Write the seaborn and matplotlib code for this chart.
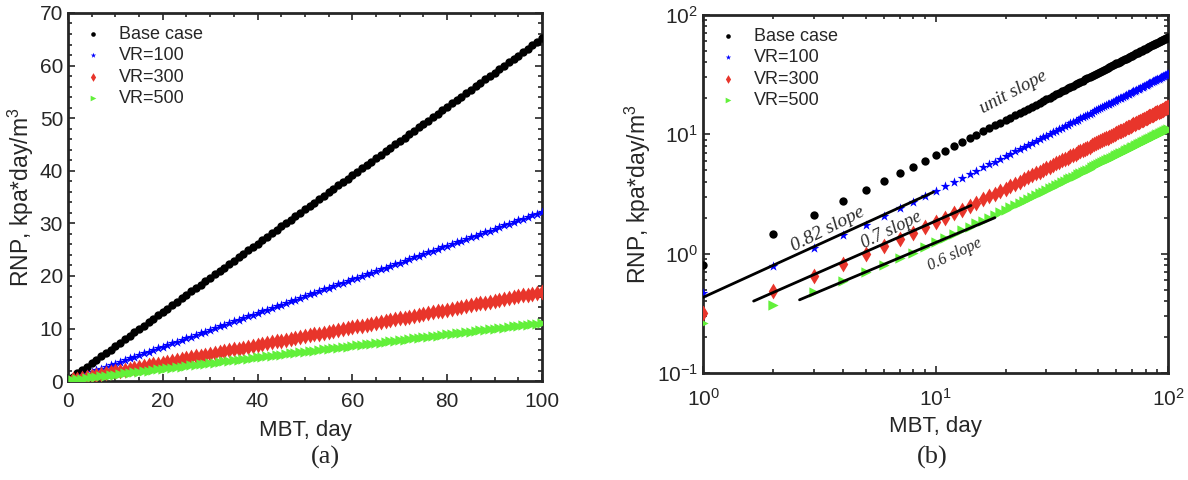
import numpy as np
import pandas as pd
from matplotlib import pyplot as plt
from matplotlib.ticker import MultipleLocator, LogLocator, NullFormatter
import seaborn as sns

sns.set_style("ticks")
plt.rcParams["font.family"] = ["Liberation Sans", "DejaVu Sans"]
plt.rcParams["mathtext.default"] = "regular"

# MBT, day (1..100)
mbt = list(range(1, 101))

base_case = [0.80, 1.45, 2.10, 2.75, 3.40, 4.05, 4.70, 5.35, 6.00, 6.65,
             7.30, 7.95, 8.60, 9.25, 9.90, 10.55, 11.20, 11.85, 12.50, 13.15,
             13.80, 14.45, 15.10, 15.75, 16.40, 17.05, 17.70, 18.35, 19.00, 19.65,
             20.30, 20.95, 21.60, 22.25, 22.90, 23.55, 24.20, 24.85, 25.50, 26.15,
             26.80, 27.45, 28.10, 28.75, 29.40, 30.05, 30.70, 31.35, 32.00, 32.65,
             33.30, 33.95, 34.60, 35.25, 35.90, 36.55, 37.20, 37.85, 38.50, 39.15,
             39.80, 40.45, 41.10, 41.75, 42.40, 43.05, 43.70, 44.35, 45.00, 45.65,
             46.30, 46.95, 47.60, 48.25, 48.90, 49.55, 50.20, 50.85, 51.50, 52.15,
             52.80, 53.45, 54.10, 54.75, 55.40, 56.05, 56.70, 57.35, 58.00, 58.65,
             59.30, 59.95, 60.60, 61.25, 61.90, 62.55, 63.20, 63.85, 64.50, 65.15]

vr100 = [0.47, 0.79, 1.11, 1.43, 1.75, 2.07, 2.39, 2.71, 3.03, 3.35,
         3.67, 3.99, 4.31, 4.63, 4.95, 5.27, 5.59, 5.91, 6.23, 6.55,
         6.87, 7.19, 7.51, 7.83, 8.15, 8.47, 8.79, 9.11, 9.43, 9.75,
         10.07, 10.39, 10.71, 11.03, 11.35, 11.67, 11.99, 12.31, 12.63, 12.95,
         13.27, 13.59, 13.91, 14.23, 14.55, 14.87, 15.19, 15.51, 15.83, 16.15,
         16.47, 16.79, 17.11, 17.43, 17.75, 18.07, 18.39, 18.71, 19.03, 19.35,
         19.67, 19.99, 20.31, 20.63, 20.95, 21.27, 21.59, 21.91, 22.23, 22.55,
         22.87, 23.19, 23.51, 23.83, 24.15, 24.47, 24.79, 25.11, 25.43, 25.75,
         26.07, 26.39, 26.71, 27.03, 27.35, 27.67, 27.99, 28.31, 28.63, 28.95,
         29.27, 29.59, 29.91, 30.23, 30.55, 30.87, 31.19, 31.51, 31.83, 32.15]

vr300 = [0.32, 0.49, 0.65, 0.82, 0.99, 1.16, 1.33, 1.49, 1.66, 1.83,
         2.00, 2.17, 2.33, 2.50, 2.67, 2.84, 3.01, 3.17, 3.34, 3.51,
         3.68, 3.85, 4.01, 4.18, 4.35, 4.52, 4.69, 4.85, 5.02, 5.19,
         5.36, 5.53, 5.69, 5.86, 6.03, 6.20, 6.37, 6.53, 6.70, 6.87,
         7.04, 7.21, 7.37, 7.54, 7.71, 7.88, 8.05, 8.21, 8.38, 8.55,
         8.72, 8.89, 9.05, 9.22, 9.39, 9.56, 9.73, 9.89, 10.06, 10.23,
         10.40, 10.57, 10.73, 10.90, 11.07, 11.24, 11.41, 11.57, 11.74, 11.91,
         12.08, 12.25, 12.41, 12.58, 12.75, 12.92, 13.09, 13.25, 13.42, 13.59,
         13.76, 13.93, 14.09, 14.26, 14.43, 14.60, 14.77, 14.93, 15.10, 15.27,
         15.44, 15.61, 15.77, 15.94, 16.11, 16.28, 16.45, 16.61, 16.78, 16.95]

vr500 = [0.26, 0.37, 0.48, 0.59, 0.70, 0.80, 0.91, 1.02, 1.13, 1.24,
         1.35, 1.46, 1.57, 1.68, 1.79, 1.89, 2.00, 2.11, 2.22, 2.33,
         2.44, 2.55, 2.66, 2.77, 2.88, 2.98, 3.09, 3.20, 3.31, 3.42,
         3.53, 3.64, 3.75, 3.86, 3.97, 4.07, 4.18, 4.29, 4.40, 4.51,
         4.62, 4.73, 4.84, 4.95, 5.06, 5.16, 5.27, 5.38, 5.49, 5.60,
         5.71, 5.82, 5.93, 6.04, 6.15, 6.25, 6.36, 6.47, 6.58, 6.69,
         6.80, 6.91, 7.02, 7.13, 7.24, 7.34, 7.45, 7.56, 7.67, 7.78,
         7.89, 8.00, 8.11, 8.22, 8.33, 8.43, 8.54, 8.65, 8.76, 8.87,
         8.98, 9.09, 9.20, 9.31, 9.42, 9.52, 9.63, 9.74, 9.85, 9.96,
         10.07, 10.18, 10.29, 10.40, 10.51, 10.61, 10.72, 10.83, 10.94, 11.05]

labels = ["Base case", "VR=100", "VR=300", "VR=500"]

# fitted slope lines on log plot: (x0, x1), (y0, y1)
slope_x = [(1.0, 9.8), (1.65, 14.2), (2.6, 18.0)]
slope_y = [(0.43, 3.28), (0.40, 2.53), (0.41, 2.0)]
slope_text = ["unit slope", "0.82 slope", "0.7 slope", "0.6 slope"]
slope_text_x = [21.7, 3.45, 6.45, 12.1]
slope_text_y = [22.4, 1.59, 1.57, 0.98]

df = pd.DataFrame({"MBT": mbt * 4,
                   "RNP": base_case + vr100 + vr300 + vr500,
                   "case": np.repeat(labels, len(mbt))})

colors = {"Base case": "#000000", "VR=100": "#0000ff",
          "VR=300": "#e8352b", "VR=500": "#62f03a"}
markers = {"Base case": "o", "VR=100": "*", "VR=300": "d", "VR=500": ">"}
sizes = {"Base case": 36, "VR=100": 55, "VR=300": 65, "VR=500": 55}

txt_col = "#262626"

fig = plt.figure(figsize=(11.88, 4.8), dpi=100)
ax1 = fig.add_axes([0.0572, 0.206, 0.399, 0.767])
ax2 = fig.add_axes([0.5918, 0.223, 0.3914, 0.746])

for ax in (ax1, ax2):
    for lab in labels:
        sub = df[df["case"] == lab]
        sns.scatterplot(data=sub, x="MBT", y="RNP", marker=markers[lab],
                        color=colors[lab], s=sizes[lab], linewidth=0,
                        label=lab, ax=ax, zorder=3)

# (a) linear
ax1.set_xlim(0, 100)
ax1.set_ylim(0, 70)
ax1.xaxis.set_major_locator(MultipleLocator(20))
ax1.xaxis.set_minor_locator(MultipleLocator(5))
ax1.yaxis.set_major_locator(MultipleLocator(10))
ax1.yaxis.set_minor_locator(MultipleLocator(2))

# (b) log-log
ax2.set_xscale("log")
ax2.set_yscale("log")
ax2.set_xlim(1, 100)
ax2.set_ylim(0.1, 100)
ax2.xaxis.set_minor_locator(LogLocator(base=10, subs=np.arange(2, 10)))
ax2.yaxis.set_minor_locator(LogLocator(base=10, subs=np.arange(2, 10)))
ax2.xaxis.set_minor_formatter(NullFormatter())
ax2.yaxis.set_minor_formatter(NullFormatter())

for xs, ys in zip(slope_x, slope_y):
    ax2.plot(xs, ys, color="black", lw=2, zorder=4)

rot = [28, 27, 26, 25]
fs = [13.5, 14, 13, 11.5]
for t, x, y, r, f in zip(slope_text, slope_text_x, slope_text_y, rot, fs):
    ax2.text(x, y, t, rotation=r, ha="center", va="center", fontsize=f,
             style="italic", color="#2a2a2a",
             family=["Liberation Serif", "DejaVu Serif"],
             rotation_mode="anchor", zorder=5)

for ax in (ax1, ax2):
    ax.set_xlabel("MBT, day", fontsize=16, color=txt_col, labelpad=6)
    ax.set_ylabel("RNP, kpa*day/m$^3$", fontsize=16.5, color=txt_col, labelpad=3)
    ax.tick_params(which="both", direction="in", top=True, right=True,
                   color=txt_col, labelcolor=txt_col, labelsize=15, width=1.2)
    ax.tick_params(which="major", length=5)
    ax.tick_params(which="minor", length=3)
    for sp in ax.spines.values():
        sp.set_visible(True)
        sp.set_linewidth(2)
        sp.set_color(txt_col)
    leg = ax.legend(loc="upper left", frameon=False, fontsize=13,
                    handletextpad=0.7, borderaxespad=0.3, labelspacing=0.25,
                    markerscale=0.55, handlelength=1.4)
    for t in leg.get_texts():
        t.set_color(txt_col)

ax1.tick_params(axis="x", which="major", pad=8)
ax2.tick_params(axis="x", which="major", pad=11)
ax2.xaxis.labelpad = 4

fig.text(0.274, 0.048, "(a)", fontsize=19, ha="center", va="center",
         family=["Liberation Serif", "DejaVu Serif"])
fig.text(0.785, 0.048, "(b)", fontsize=19, ha="center", va="center",
         family=["Liberation Serif", "DejaVu Serif"])

fig.savefig("out.png", dpi=100)
